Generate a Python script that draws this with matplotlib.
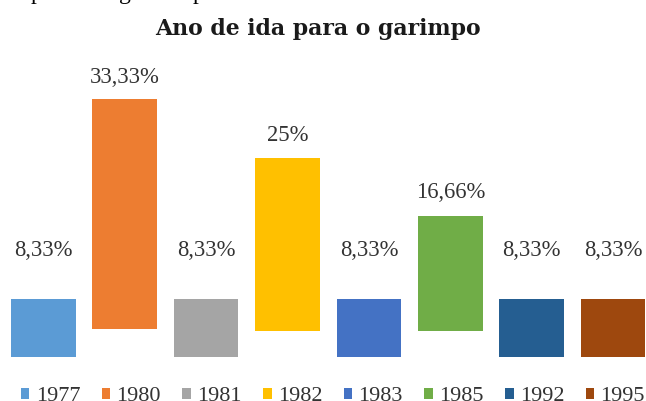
import matplotlib
matplotlib.use("Agg")
import matplotlib.pyplot as plt
from matplotlib.patches import Patch
import numpy as np

# data
years = ["1977", "1980", "1981", "1982", "1983", "1985", "1992", "1995"]
values = [8.33, 33.33, 8.33, 25.0, 8.33, 16.66, 8.33, 8.33]
labels = ["8,33%", "33,33%", "8,33%", "25%", "8,33%", "16,66%", "8,33%", "8,33%"]
# the taller bars sit a little higher in the original picture
bottoms = [0, 4.02, 0, 3.77, 0, 3.77, 0, 0]
colors = ["#5B9BD5", "#ED7D31", "#A5A5A5", "#FFC000",
          "#4472C4", "#70AD47", "#255E91", "#9E480E"]

W, H = 646, 401
fig = plt.figure(figsize=(W / 100, H / 100), dpi=100)

# axes placed in pixels: baseline at 44 px from bottom, 81.4 px per category
step = 81.4
x0 = 43.3
ax = fig.add_axes([0, 44.3 / H, 1, 310 / H])
ax.set_xlim(-x0 / step, (W - x0) / step)
ax.set_ylim(0, 310 / 6.89)
ax.axis("off")

x = np.arange(len(years))
ax.bar(x, values, width=64.5 / step, bottom=bottoms, color=colors, linewidth=0)

lab_base = max(bottoms) + 3.1
for xi, v, t in zip(x, values, labels):
    ax.text(xi, v + lab_base, t, ha="center", va="center",
            family="Liberation Serif", fontsize=16.3, color="#333333")

fig.text(317.5 / W, 1 - 35 / H, "Ano de ida para o garimpo", ha="center",
         va="baseline", family="DejaVu Serif", fontweight="bold",
         fontsize=15.8, color="#1a1a1a")

# fragments of the page text above the chart, cut off by the crop
for xp, ch in [(31, "p"), (119, "g"), (193, "p")]:
    fig.text(xp / W, 1 + 1.5 / H, ch, ha="left", va="baseline",
             family="Liberation Serif", fontsize=17, color="black")

handles = [Patch(facecolor=c, edgecolor="none") for c in colors]
leg = fig.legend(handles, years, loc="lower left",
                 bbox_to_anchor=(21 / W, -5 / H), ncol=8, frameon=False,
                 borderpad=0, borderaxespad=0,
                 prop={"family": "Liberation Serif", "size": 16},
                 handlelength=0.38, handleheight=0.38, handletextpad=0.28,
                 columnspacing=0.97, labelcolor="#333333")

fig.savefig("out.png", dpi=100)
